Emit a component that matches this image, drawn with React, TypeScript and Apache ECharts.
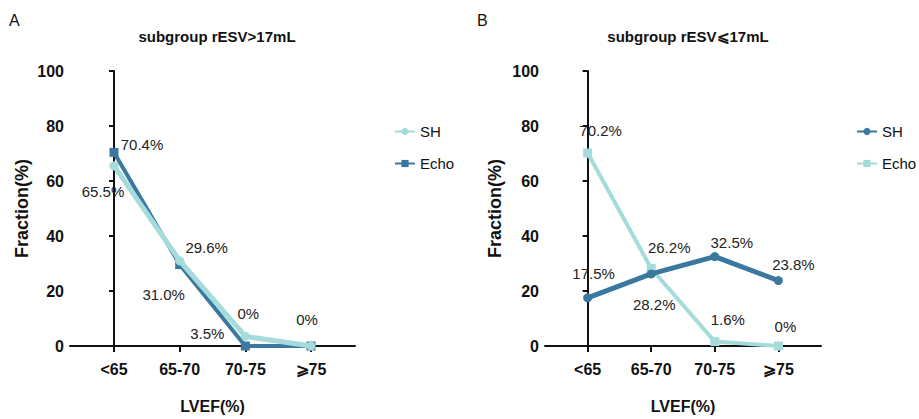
import React, { useEffect, useRef } from "react";
import * as echarts from "echarts";

const categories = ["<65", "65-70", "70-75", "⩾75"];
const yTicks = [0, 20, 40, 60, 80, 100];

// Panel A: subgroup rESV>17mL
const shA = [65.5, 31.0, 3.5, 0];
const echoA = [70.4, 29.6, 0, 0];
// Panel B: subgroup rESV⩽17mL
const shB = [17.5, 26.2, 32.5, 23.8];
const echoB = [70.2, 28.2, 1.6, 0];

const DARK = "#3b78a0";
const LIGHT = "#a5dbdb";
const FONT = "Liberation Sans, Arial, sans-serif";

const fmt = (v: number) => (v === 0 ? "0%" : v.toFixed(1) + "%");

function mkData(vals: number[], offsets: (number[] | null)[]) {
  return vals.map((v, i) => ({
    value: [i, v],
    label: offsets[i]
      ? { show: true, offset: offsets[i], formatter: fmt(v) }
      : { show: false },
  }));
}

export default function App() {
  const ref = useRef<HTMLDivElement>(null);
  useEffect(() => {
    const chart = echarts.init(ref.current!, null, { renderer: "svg" });
    const labelStyle = {
      position: "inside",
      fontFamily: FONT,
      fontSize: 15,
      color: "#222",
    };
    const xAxisBase = (gridIndex: number) => ({
      type: "value",
      gridIndex,
      min: -0.67,
      max: 3.67,
      name: "LVEF(%)",
      nameLocation: "middle",
      nameGap: 52,
      nameTextStyle: { fontFamily: FONT, fontSize: 16, fontWeight: "bold", color: "#111" },
      axisLine: { lineStyle: { color: "#111", width: 2 } },
      axisTick: { show: true, customValues: [0, 1, 2, 3], length: 6, lineStyle: { color: "#111", width: 2 } },
      axisLabel: {
        customValues: [0, 1, 2, 3],
        formatter: (v: number) => categories[Math.round(v)] ?? "",
        fontFamily: FONT,
        fontSize: 16,
        fontWeight: "bold",
        color: "#111",
        margin: 15,
      },
      splitLine: { show: false },
    });
    const yAxisBase = (gridIndex: number, nameGap: number) => ({
      type: "value",
      gridIndex,
      min: yTicks[0],
      max: yTicks[yTicks.length - 1],
      interval: 20,
      name: "Fraction(%)",
      nameLocation: "middle",
      nameGap,
      nameTextStyle: { fontFamily: FONT, fontSize: 18, fontWeight: "bold", color: "#111" },
      axisLine: { show: true, lineStyle: { color: "#111", width: 2 } },
      axisTick: { show: true, length: 5, lineStyle: { color: "#111", width: 2 } },
      axisLabel: { fontFamily: FONT, fontSize: 16, fontWeight: "bold", color: "#111", margin: 6 },
      splitLine: { show: false },
    });
    const lineSeries = (
      name: string,
      xi: number,
      vals: number[],
      offsets: (number[] | null)[],
      color: string,
      symbol: string,
      width: number,
      z: number
    ) => ({
      type: "line",
      name,
      xAxisIndex: xi,
      yAxisIndex: xi,
      data: mkData(vals, offsets),
      symbol,
      symbolSize: 9,
      lineStyle: { color, width },
      itemStyle: { color },
      label: labelStyle,
      z,
    });

    const legendBase = {
      top: 119,
      orient: "vertical",
      itemWidth: 20,
      itemHeight: 9,
      itemGap: 17,
      formatter: (n: string) => n.trim(),
      textStyle: { fontFamily: FONT, fontSize: 15, color: "#111" },
    };

    chart.setOption({
      animation: false,
      backgroundColor: "#fff",
      title: [
        {
          text: "subgroup rESV>17mL",
          left: 212,
          top: 24,
          textAlign: "center",
          textStyle: { fontFamily: FONT, fontSize: 15, fontWeight: "bold", color: "#111" },
        },
        {
          text: "subgroup rESV⩽17mL",
          left: 683,
          top: 24,
          textAlign: "center",
          textStyle: { fontFamily: FONT, fontSize: 15, fontWeight: "bold", color: "#111" },
        },
      ],
      graphic: [
        { type: "text", left: 9, top: 12, style: { text: "A", font: `16px ${FONT}`, fill: "#111" } },
        { type: "text", left: 477, top: 12, style: { text: "B", font: `16px ${FONT}`, fill: "#111" } },
      ],
      legend: [
        { ...legendBase, left: 389, seriesIndex: [0, 1], data: [{ name: "SH" }, { name: "Echo" }] },
        { ...legendBase, left: 851, seriesIndex: [2, 3], data: [{ name: "SH " }, { name: "Echo " }] },
      ],
      grid: [
        { left: 70, top: 71, width: 285, height: 277 },
        { left: 545, top: 71, width: 276, height: 277 },
      ],
      xAxis: [xAxisBase(0), xAxisBase(1)],
      yAxis: [yAxisBase(0, 39), yAxisBase(1, 41)],
      series: [
        lineSeries("SH", 0, shA, [[-11, 26], [-16, 34], [-38, -3], null], LIGHT, "circle", 5, 3),
        lineSeries("Echo", 0, echoA, [[28, -8], [27, -17], [3, -33], [-4, -27]], DARK, "rect", 4, 2),
        lineSeries("SH ", 1, shB, [[6, -24], [18, -26], [17, -14], [15, -16]], DARK, "circle", 5, 3),
        lineSeries("Echo ", 1, echoB, [[13, -22], [3, 36], [13, -22], [7, -20]], LIGHT, "rect", 4, 2),
      ],
    });
    return () => chart.dispose();
  }, []);
  return (
    <div
      ref={ref}
      style={{ position: "fixed", left: 0, top: 0, width: 919, height: 419 }}
    />
  );
}
